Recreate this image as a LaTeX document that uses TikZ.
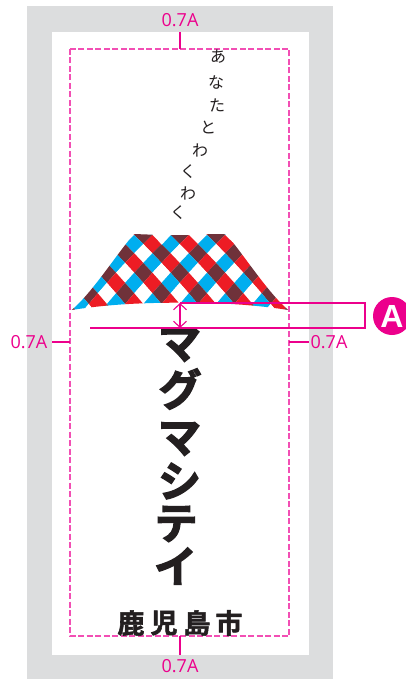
\documentclass[tikz,border=0pt]{standalone}
\usetikzlibrary{arrows.meta}
\usepackage{fontspec}
\setmainfont{Open Sans}
\newfontfamily\jp{Noto Sans CJK JP}
\newfontfamily\jpb{Noto Sans CJK JP Bold}[FakeBold=3]
\newfontfamily\jpc{Noto Sans CJK JP Bold}[FakeBold=2]
\newfontfamily\sansb{Liberation Sans Bold}
\definecolor{mgenta}{HTML}{EC008C}
\definecolor{dashpink}{HTML}{F24FB4}
\definecolor{pagegray}{HTML}{DCDDDE}
\definecolor{inkblack}{HTML}{231F20}
\definecolor{mtblue}{HTML}{00AEEF}
\definecolor{mtred}{HTML}{ED1C24}
\definecolor{mtmaroon}{HTML}{6F323A}
\tikzset{
  dim/.style={draw=mgenta,line width=1.1pt},
  dimlabel/.style={text=mgenta,font=\fontsize{18}{18}\selectfont,inner sep=0pt},
  safeframe/.style={draw=dashpink,line width=1.3pt,dash pattern=on 6pt off 2.5pt},
  hira/.style={text=inkblack,font=\jp\fontsize{16}{16}\selectfont,inner sep=0pt},
  kata/.style={text=inkblack,font=\jpb\fontsize{43}{43}\selectfont,inner sep=0pt},
  city/.style={text=inkblack,font=\jpc\fontsize{27}{27}\selectfont,inner sep=0pt},
  markerdot/.style={circle,fill=mgenta,minimum size=38pt,inner sep=0pt,text=white,font=\sansb\fontsize{32}{32}\selectfont},
}
\begin{document}
\begin{tikzpicture}[x=1pt,y=-1pt]
\useasboundingbox (0,0) rectangle (405,679);
\fill[pagegray] (27,6) rectangle (333,679);
\fill[white] (52,32) rectangle (309,655);
% mountain
\begin{scope}
\clip (71.7,310) .. controls (92,293) and (116,255) .. (134,234) -- (152.7,234.7) -- (161.7,245) -- (171,235) -- (189.3,235) -- (198,244) -- (207,234) -- (226,234) .. controls (244,255) and (268,293) .. (288.3,310) .. controls (250,304) and (215,302.7) .. (180,302.7) .. controls (145,302.7) and (110,304) .. (71.7,310) -- cycle;
\foreach \i in {-3,...,14}{
  \foreach \j in {-10,...,12}{
    \pgfmathtruncatemacro\k{mod(\i+20,2)+2*mod(\j+20,2)}
    \ifcase\k \def\cc{mtmaroon}\or \def\cc{mtred}\or \def\cc{mtblue}\or \def\cc{white}\fi
    \pgfmathsetmacro\cx{143.3+9.1*(\i-\j)}
    \pgfmathsetmacro\rr{\i+\j}
    \pgfmathsetmacro\ym{235+8.87*(\rr-1)+0.141*(\rr-1)*(\rr-1)}
    \pgfmathsetmacro\yc{235+8.87*\rr+0.141*\rr*\rr}
    \pgfmathsetmacro\yp{235+8.87*(\rr+1)+0.141*(\rr+1)*(\rr+1)}
    \fill[\cc] (\cx,\ym) -- (\cx+9.1,\yc) -- (\cx,\yp) -- (\cx-9.1,\yc) -- cycle;
  }
}
\end{scope}
% frame
\draw[safeframe] (70,49) rectangle (289,636);
% hiragana
\node[hira] (h1) at (218,57) {あ};
\node[hira] (h2) at (216,82) {な};
\node[hira] (h3) at (217,105) {た};
\node[hira] (h4) at (208,128) {と};
\node[hira] (h5) at (200,150) {わ};
\node[hira] (h6) at (188,172) {く};
\node[hira] (h7) at (188,193) {わ};
\node[hira] (h8) at (178,213) {く};
% katakana
\node[kata] (k1) at (179.5,345) {マ};
\node[kata] (k2) at (180,389) {グ};
\node[kata] (k3) at (179.5,439) {マ};
\node[kata] (k4) at (179.5,481) {シ};
\node[kata] (k5) at (176,524) {テ};
\node[kata] (k6) at (175.5,566) {イ};
% city
\node[city] (c1) at (131,623) {鹿};
\node[city] (c2) at (164,623) {児};
\node[city] (c3) at (197,623) {島};
\node[city] (c4) at (229,623) {市};
% dimension labels
\node[dimlabel] (top) at (180,20) {0.7A};
\node[dimlabel] (left) at (29,342) {0.7A};
\node[dimlabel] (right) at (329,342) {0.7A};
\node[dimlabel] (bot) at (180,666) {0.7A};
\coordinate (topa) at (180,32); \coordinate (topb) at (180,49);
\coordinate (lefta) at (52,342); \coordinate (leftb) at (70,342);
\coordinate (righta) at (289,342); \coordinate (rightb) at (309,342);
\coordinate (bota) at (180,636); \coordinate (botb) at (180,655);
\draw[dim] (topa) -- (topb);
\draw[dim] (lefta) -- (leftb);
\draw[dim] (righta) -- (rightb);
\draw[dim] (bota) -- (botb);
% A bracket
\coordinate (capTop) at (180,303);
\coordinate (capBot) at (180,328);
\coordinate (boxTR) at (365,303);
\coordinate (boxBR) at (365,328);
\coordinate (boxBL) at (90,328);
\draw[dim] (capTop) -- (boxTR) -- (boxBR) -- (boxBL);
\draw[dim,{Straight Barb[length=6pt,width=13pt]}-{Straight Barb[length=6pt,width=13pt]}] (capTop) -- (capBot);
\node[markerdot] (marker) at (392,316) {A};
\end{tikzpicture}
\end{document}
